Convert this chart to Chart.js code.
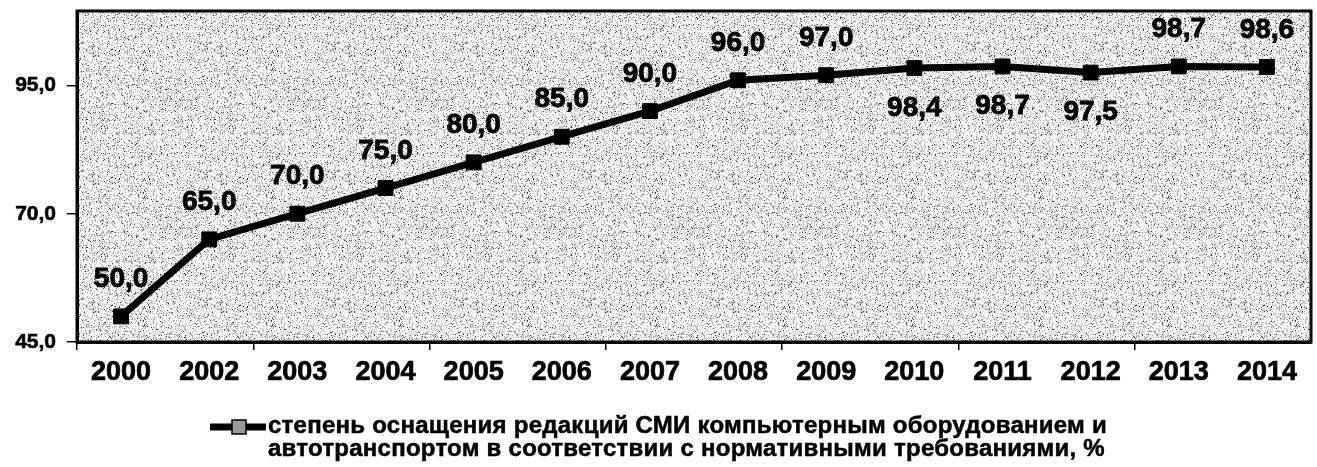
<!DOCTYPE html>
<html lang="ru">
<head>
<meta charset="utf-8">
<title>Степень оснащения редакций СМИ</title>
<script src="https://cdn.jsdelivr.net/npm/chart.js@4.4.1/dist/chart.umd.min.js"></script>
<style>
    html, body { margin: 0; padding: 0; background: #fff; }
    #wrap { width: 1317px; height: 467px; position: relative; }
</style>
</head>
<body>
<div id="wrap"><canvas id="equipChart"></canvas></div>
<script>
// data
const years = ['2000', '2002', '2003', '2004', '2005', '2006', '2007',
               '2008', '2009', '2010', '2011', '2012', '2013', '2014'];
const equipmentShare = [50, 65, 70, 75, 80, 85, 90, 96, 97, 98.4, 98.7, 97.5, 98.7, 98.6];
const yTicks = [45, 70, 95];
const labelsBelow = ['2010', '2011', '2012'];
const seriesLabel = [
    'степень оснащения редакций СМИ компьютерным оборудованием и',
    'автотранспортом в соответствии с нормативными требованиями, %'
];

const FONT = "'Liberation Sans', Arial, sans-serif";
const fmt = v => Number(v).toFixed(1).replace('.', ',');

// speckled grey fill, like the scanned original
function makeSpeckle() {
    const c = document.createElement('canvas');
    c.width = 128; c.height = 128;
    const g = c.getContext('2d');
    const img = g.createImageData(128, 128);
    for (let y = 0; y < 128; y++) {
        for (let x = 0; x < 128; x++) {
            let h = (x * 374761393 + y * 668265263) | 0;
            h = Math.imul(h ^ (h >>> 13), 1274126177);
            const r = ((h ^ (h >>> 16)) >>> 0) / 4294967296;
            let v = 242;
            if (r < 0.04) v = 60;
            else if (r < 0.22) v = 170;
            const i = (y * 128 + x) * 4;
            img.data[i] = img.data[i + 1] = img.data[i + 2] = v;
            img.data[i + 3] = 255;
        }
    }
    g.putImageData(img, 0, 0);
    return c;
}

const plotFrame = {
    id: 'plotFrame',
    beforeDraw(chart) {
        const { ctx, chartArea: a } = chart;
        ctx.save();
        ctx.fillStyle = ctx.createPattern(makeSpeckle(), 'repeat');
        ctx.fillRect(a.left, a.top, a.right - a.left, a.bottom - a.top);
        ctx.restore();
    },
    afterDraw(chart) {
        const { ctx, chartArea: a } = chart;
        ctx.save();
        ctx.strokeStyle = '#000';
        ctx.lineWidth = 3;
        ctx.strokeRect(a.left, a.top, a.right - a.left, a.bottom - a.top);
        ctx.restore();
    }
};

const valueLabels = {
    id: 'valueLabels',
    afterDatasetsDraw(chart) {
        const { ctx } = chart;
        const meta = chart.getDatasetMeta(0);
        ctx.save();
        ctx.font = 'bold 28px ' + FONT;
        ctx.fillStyle = '#000';
        ctx.strokeStyle = '#000';
        ctx.lineWidth = 0.8;
        ctx.textAlign = 'center';
        ctx.textBaseline = 'middle';
        meta.data.forEach((pt, i) => {
            const below = labelsBelow.includes(years[i]);
            const y = pt.y + (below ? 40 : -37);
            ctx.fillText(fmt(equipmentShare[i]), pt.x, y);
            ctx.strokeText(fmt(equipmentShare[i]), pt.x, y);
        });
        ctx.restore();
    }
};

const bottomLegend = {
    id: 'bottomLegend',
    afterDraw(chart) {
        const { ctx } = chart;
        ctx.save();
        ctx.font = 'bold 24px ' + FONT;
        ctx.letterSpacing = '0.25px';
        const textW = Math.max(...seriesLabel.map(t => ctx.measureText(t).width));
        const sampleW = 58;
        const x0 = (chart.width - sampleW - textW) / 2;
        const y1 = 433, y2 = 456;
        const ly = y1 - 6;
        // line sample with marker
        ctx.strokeStyle = '#000';
        ctx.lineWidth = 7;
        ctx.beginPath();
        ctx.moveTo(x0, ly);
        ctx.lineTo(x0 + sampleW - 2, ly);
        ctx.stroke();
        ctx.fillStyle = '#9a9a9a';
        ctx.lineWidth = 1.5;
        ctx.fillRect(x0 + 22, ly - 7, 14, 14);
        ctx.strokeRect(x0 + 22, ly - 7, 14, 14);
        ctx.fillStyle = '#000';
        ctx.lineWidth = 0.5;
        ctx.textAlign = 'left';
        ctx.textBaseline = 'alphabetic';
        seriesLabel.forEach((t, i) => {
            const y = i === 0 ? y1 : y2;
            ctx.fillText(t, x0 + sampleW, y);
            ctx.strokeText(t, x0 + sampleW, y);
        });
        ctx.restore();
    }
};

new Chart(document.getElementById('equipChart'), {
    type: 'line',
    data: {
        labels: years,
        datasets: [{
            label: seriesLabel.join(' '),
            data: equipmentShare,
            borderColor: '#000',
            borderWidth: 7,
            tension: 0,
            fill: false,
            pointStyle: 'rect',
            pointRadius: 10.5,
            pointBackgroundColor: '#000',
            pointBorderColor: '#000',
            pointBorderWidth: 1
        }]
    },
    options: {
        responsive: true,
        maintainAspectRatio: false,
        animation: false,
        layout: { autoPadding: false, padding: { top: 11, right: 6, left: 0, bottom: 0 } },
        plugins: {
            legend: { display: false },
            tooltip: { enabled: false }
        },
        scales: {
            x: {
                offset: true,
                grid: {
                    offset: true,
                    drawOnChartArea: false,
                    tickLength: 8,
                    tickColor: c => (c.index % 2 === 0 ? '#000' : 'rgba(0,0,0,0)'),
                    lineWidth: 1.5
                },
                border: { display: true, color: '#000', width: 3 },
                ticks: {
                    color: '#000',
                    font: { family: FONT, size: 27, weight: 'bold' },
                    textStrokeColor: '#000',
                    textStrokeWidth: 0.7,
                    maxRotation: 0,
                    autoSkip: false,
                    padding: 6
                },
                afterFit(scale) {
                    scale.height = 125;
                    scale.paddingLeft = 0;
                    scale.paddingRight = 0;
                }
            },
            y: {
                min: 45,
                max: 109.5,
                grid: {
                    drawOnChartArea: false,
                    tickLength: 10,
                    color: '#000',
                    lineWidth: 1.5
                },
                border: { display: true, color: '#000', width: 3 },
                ticks: {
                    stepSize: 25,
                    color: '#000',
                    font: { family: FONT, size: 21, weight: 'bold' },
                    textStrokeColor: '#000',
                    textStrokeWidth: 0.6,
                    padding: 11,
                    callback: v => fmt(v)
                },
                afterBuildTicks(scale) {
                    scale.ticks = yTicks.map(v => ({ value: v }));
                },
                afterFit(scale) {
                    scale.width = 77;
                    scale.paddingTop = 0;
                    scale.paddingBottom = 0;
                }
            }
        }
    },
    plugins: [plotFrame, valueLabels, bottomLegend]
});
</script>
</body>
</html>
